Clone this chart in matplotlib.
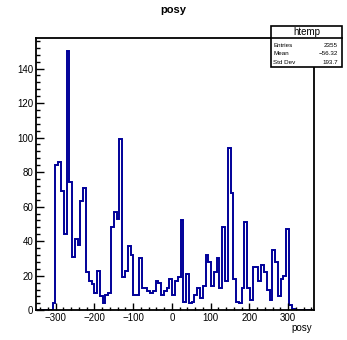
import numpy as np
import matplotlib
matplotlib.use('Agg')
import matplotlib.pyplot as plt
from matplotlib.patches import Rectangle
from matplotlib.ticker import MultipleLocator

plt.rcParams['font.family'] = ['Liberation Sans', 'DejaVu Sans']

# histogram contents (100 bins)
x_min, x_max = -351, 367
counts = [0, 0, 0, 0, 0, 0, 4, 84, 86, 69,
          44, 150, 74, 31, 41, 38, 63, 71, 22, 17,
          15, 10, 23, 8, 4, 9, 10, 48, 57, 53,
          99, 19, 23, 37, 32, 9, 9, 30, 13, 13,
          11, 10, 11, 17, 16, 9, 11, 13, 18, 9,
          17, 19, 52, 5, 21, 4, 5, 9, 13, 7,
          14, 32, 28, 14, 22, 30, 13, 48, 17, 94,
          68, 18, 5, 4, 13, 51, 13, 6, 25, 25,
          17, 26, 22, 12, 6, 35, 28, 8, 18, 20,
          47, 3, 1, 0, 0, 0, 0, 0, 0, 0]
stat_names = ['Entries', 'Mean', 'Std Dev']
stat_values = ['2355', '\u221256.32', '193.7']

edges = np.linspace(x_min, x_max, len(counts) + 1)

fig = plt.figure(figsize=(3.47, 3.40), dpi=100)
ax = fig.add_axes([0.1037, 0.0874, 0.8012, 0.8])

ax.stairs(counts, edges, color='#000099', linewidth=1.4)
ax.set_xlim(x_min, x_max)
ax.set_ylim(0, 1.05 * max(counts))

# ROOT style axes: ticks inside, only bottom/left
ax.xaxis.set_major_locator(MultipleLocator(100))
ax.xaxis.set_minor_locator(MultipleLocator(20))
ax.yaxis.set_major_locator(MultipleLocator(20))
ax.yaxis.set_minor_locator(MultipleLocator(4))
ax.tick_params(which='both', direction='in', top=False, right=False, labelsize=7, width=1)
ax.tick_params(axis='x', which='major', length=5, pad=2)
ax.tick_params(axis='x', which='minor', length=2.5)
ax.tick_params(axis='y', which='major', length=6, pad=2)
ax.tick_params(axis='y', which='minor', length=3)
for s in ax.spines.values():
    s.set_linewidth(1.3)

fig.text(0.5, 0.97, 'posy', ha='center', va='center', fontsize=8, fontweight='bold')
fig.text(0.9, 0.035, 'posy', ha='right', va='center', fontsize=7)

# stats box
bx0, bx1 = 0.781, 0.985
by0, by1, bsep = 0.804, 0.924, 0.887
fig.patches.append(Rectangle((bx0, by0), bx1 - bx0, by1 - by0, transform=fig.transFigure,
                             facecolor='white', edgecolor='black', linewidth=1.2, zorder=5))
fig.lines.append(plt.Line2D([bx0, bx1], [bsep, bsep], transform=fig.transFigure,
                            color='black', linewidth=1.2, zorder=6))
fig.text((bx0 + bx1) / 2, (bsep + by1) / 2, 'htemp', ha='center', va='center', fontsize=7, zorder=7)
rows_y = [0.866, 0.842, 0.817]
for name, val, yy in zip(stat_names, stat_values, rows_y):
    fig.text(bx0 + 0.007, yy, name, ha='left', va='center', fontsize=4.5, zorder=7)
    fig.text(bx1 - 0.012, yy, val, ha='right', va='center', fontsize=4.5, zorder=7)

fig.savefig('out.png', dpi=100)
